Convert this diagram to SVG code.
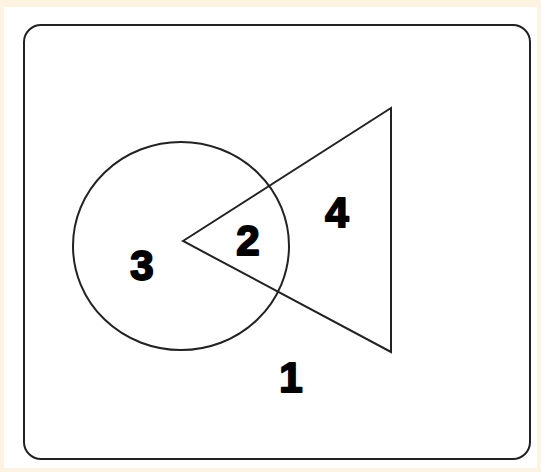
<svg xmlns="http://www.w3.org/2000/svg" width="541" height="472" viewBox="0 0 541 472">
<style>
.ln{fill:none;stroke:#222;stroke-width:2}
.lb{font-family:"Liberation Sans",Arial,sans-serif;font-weight:bold;font-size:42px;fill:#000;stroke:#000;stroke-width:2;stroke-linejoin:round;text-anchor:middle}
</style>
<rect x="0" y="0" width="541" height="472" fill="#fdf3e3"/>
<rect x="4" y="7" width="533" height="461" fill="#fff"/>
<g id="frame"><rect class="ln" x="24" y="25" width="506" height="434" rx="17"/></g>
<g id="circle"><ellipse class="ln" cx="181" cy="246" rx="108" ry="104"/></g>
<g id="triangle"><polygon class="ln" points="183,241 391,108 391,352" stroke-width="1.6"/></g>
<g id="labels">
<text class="lb" x="142" y="280">3</text>
<text class="lb" x="248" y="255">2</text>
<text class="lb" x="337" y="227">4</text>
<text class="lb" x="291" y="392">1</text>
</g>
</svg>
